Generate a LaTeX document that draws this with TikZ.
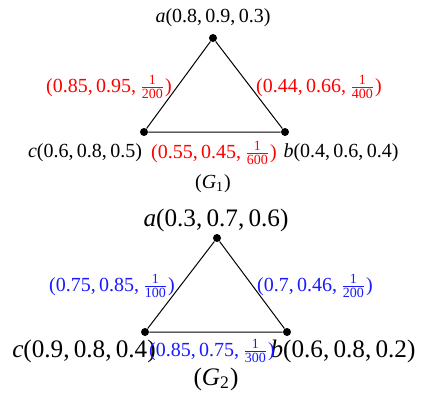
\documentclass[tikz,border=0pt]{standalone}
\usepackage{fontspec}
\setmainfont{Liberation Serif}
\usetikzlibrary{positioning}
\definecolor{redlab}{HTML}{FF0000}
\definecolor{bluelab}{HTML}{1A1AFF}
\newcommand{\wfrac}[2]{$\frac{\hbox{\fontsize{7}{7}\selectfont #1}}{\hbox{\fontsize{7}{7}\selectfont #2}}$}

\begin{document}
\begin{tikzpicture}[
  x=0.5pt,y=-0.5pt,
  vertex/.style={circle,fill=black,inner sep=0pt,minimum size=4pt},
  small/.style={font=\fontsize{10}{12}\selectfont,inner sep=0pt},
  big/.style={font=\fontsize{12.6}{15}\selectfont,inner sep=0pt},
  wred/.style={small,text=redlab},
  wblue/.style={small,text=bluelab},
  edge/.style={draw=black,line width=.5pt}
]
\useasboundingbox (0,0) rectangle (422,397);

% G1
\node[vertex] (a1) at (213,38) {};
\node[vertex] (c1) at (144,132) {};
\node[vertex] (b1) at (285,132) {};
\draw[edge] (a1) -- (b1) -- (c1) -- (a1);
\node[small] (la1) at (213,18) {\textit{a}(0.8,\,0.9,\,0.3)};
\node[small] (lc1) at (85,153) {\textit{c}(0.6,\,0.8,\,0.5)};
\node[small] (lb1) at (341,153) {\textit{b}(0.4,\,0.6,\,0.4)};
\node[wred] (eac1) at (109,87) {(0.85,\,0.95,\,\wfrac{1}{200})};
\node[wred] (eab1) at (319,87) {(0.44,\,0.66,\,\wfrac{1}{400})};
\node[wred] (ecb1) at (214,153) {(0.55,\,0.45,\,\wfrac{1}{600})};
\node[small] (g1) at (213,184) {(\textit{G}\textsubscript{1})};

% G2
\node[vertex] (a2) at (217,238) {};
\node[vertex] (c2) at (145,332) {};
\node[vertex] (b2) at (287,332) {};
\draw[edge] (a2) -- (b2) -- (c2) -- (a2);
\node[big] (la2) at (216,220) {\textit{a}(0.3,\,0.7,\,0.6)};
\node[big] (lc2) at (84,351) {\textit{c}(0.9,\,0.8,\,0.4)};
\node[big] (lb2) at (343,351) {\textit{b}(0.6,\,0.8,\,0.2)};
\node[wblue] (eac2) at (112,286) {(0.75,\,0.85,\,\wfrac{1}{100})};
\node[wblue] (eab2) at (315,286) {(0.7,\,0.46,\,\wfrac{1}{200})};
\node[wblue] (ecb2) at (212,351) {(0.85,\,0.75,\,\wfrac{1}{300})};
\node[big] (g2) at (216,379) {(\textit{G}\textsubscript{2})};
\end{tikzpicture}
\end{document}
